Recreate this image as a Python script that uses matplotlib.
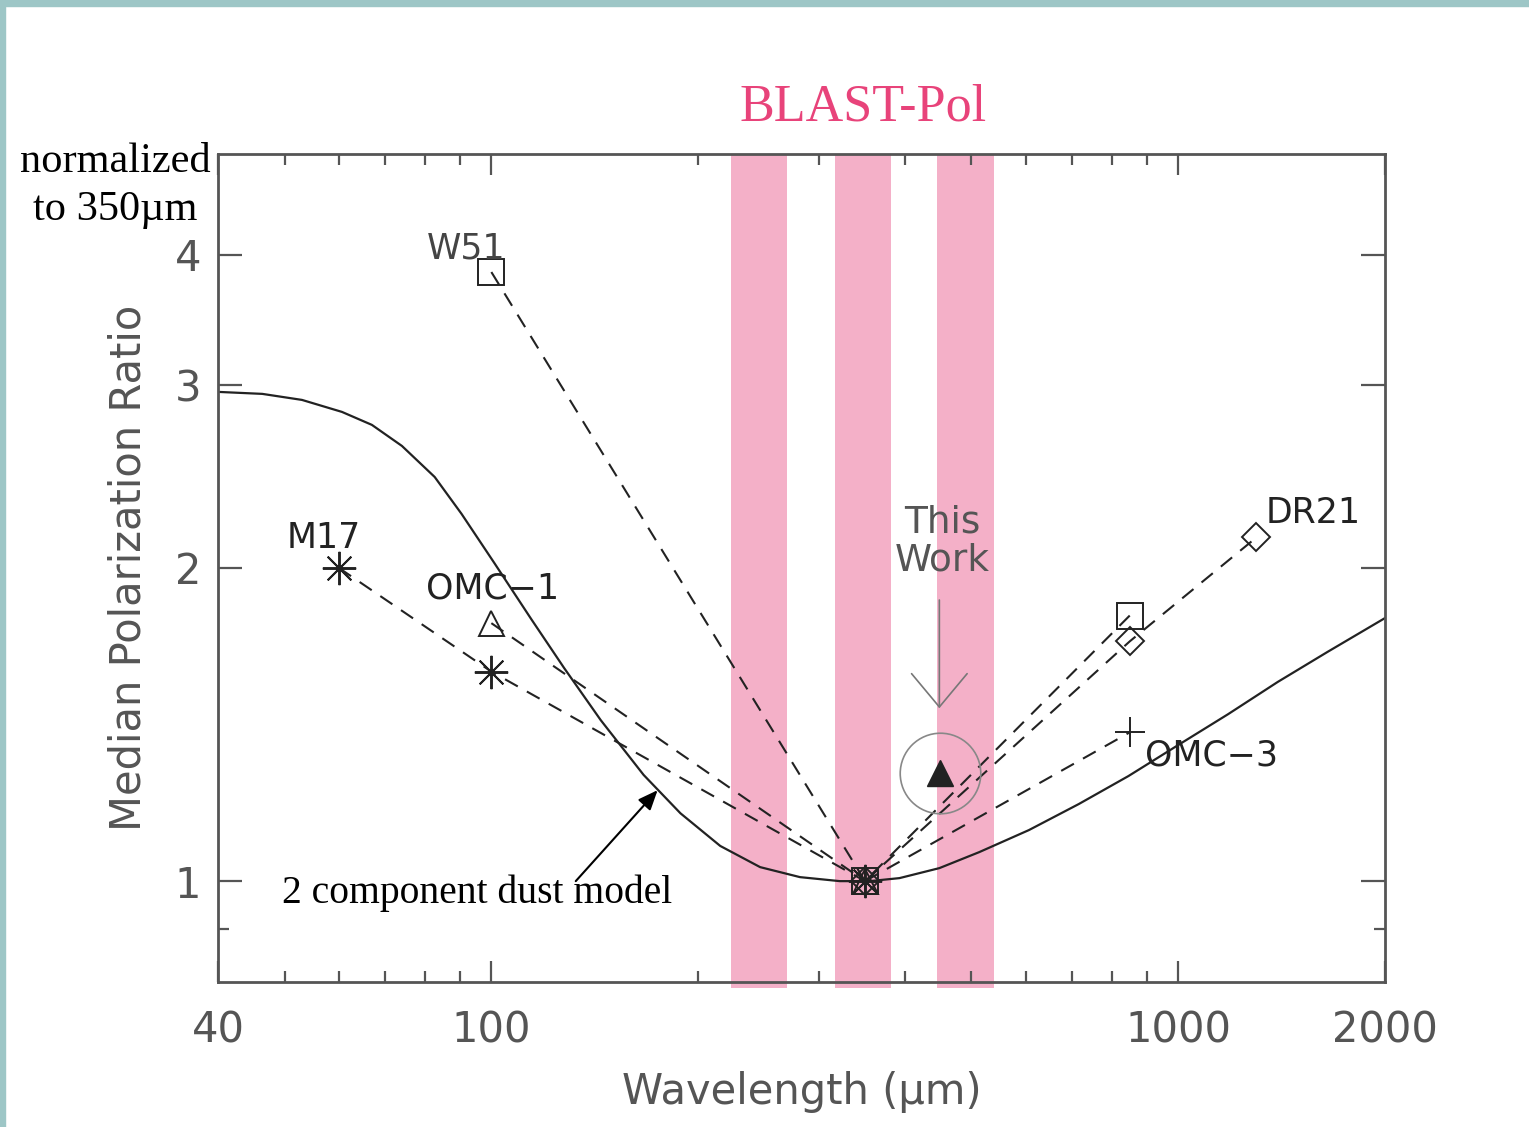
import numpy as np
import matplotlib
matplotlib.use('Agg')
from matplotlib import pyplot as plt
from matplotlib.patches import Rectangle

# BLAST-Pol passbands (um)
band_lo = [223.6, 316.2, 446.0]
band_hi = [269.4, 381.4, 539.5]

# source measurements, normalized to 350 um
w51_wl = [100, 350, 850]
w51_ratio = [3.85, 1.0, 1.80]
m17_wl = [60, 100, 350]
m17_ratio = [2.0, 1.59, 1.0]
omc1_wl = [100, 350]
omc1_ratio = [1.77, 1.0]
dr21_wl = [350, 850, 1300]
dr21_ratio = [1.0, 1.70, 2.14]
omc3_wl = [350, 850]
omc3_ratio = [1.0, 1.39]
this_wl = [450]
this_ratio = [1.27]

# two component dust model curve
model_wl = [40, 46.4, 53.0, 60.6, 67.0, 74.1, 82.7, 90.5, 101, 114.3, 127.6,
            144.3, 166.6, 188.5, 215.4, 246.2, 281.4, 321.6, 355.4, 392.8,
            449.0, 513.2, 606.2, 716.3, 846.3, 1000, 1182, 1396, 1650, 2000]
model_ratio = [2.953, 2.940, 2.901, 2.825, 2.745, 2.620, 2.446, 2.254, 2.022,
               1.786, 1.603, 1.428, 1.265, 1.162, 1.081, 1.0315, 1.0089, 1.0,
               1.0, 1.0067, 1.0292, 1.0663, 1.1196, 1.1859, 1.2618, 1.3515,
               1.447, 1.554, 1.661, 1.790]

gray = '#555555'
ink = '#222222'
pink = '#f4b0c8'
sans = 'DejaVu Sans'
serif = 'Liberation Serif'

fig = plt.figure(figsize=(15.29, 11.27), dpi=100)
fig.patch.set_facecolor('white')
fig.patches.append(Rectangle((0, 0.9947), 1, 0.0053, transform=fig.transFigure,
                             color='#9dc6c6', zorder=-1))
fig.patches.append(Rectangle((0, 0), 0.0035, 1, transform=fig.transFigure,
                             color='#9dc6c6', zorder=-1))

ax = fig.add_axes([0.1426, 0.1287, 0.7632, 0.7347])
ax.set_xscale('log')
ax.set_yscale('log')
ax.set_xlim(40, 2000)
ax.set_ylim(0.8, 5.0)

for lo, hi in zip(band_lo, band_hi):
    ax.axvspan(lo, hi, ymin=-0.007, ymax=1, color=pink, lw=0, zorder=0.5,
               clip_on=False)

ax.plot(model_wl, model_ratio, color=ink, lw=1.6, zorder=2)

dash = (0, (7, 5))
ax.plot(w51_wl, w51_ratio, color=ink, lw=1.5, ls=dash, marker='s', ms=19,
        mfc='none', mec=ink, mew=1.4, zorder=3)
ax.plot(m17_wl, m17_ratio, color=ink, lw=1.5, ls=dash, marker=(8, 2, 0),
        ms=24, mec=ink, mew=1.4, zorder=3)
ax.plot(omc1_wl, omc1_ratio, color=ink, lw=1.5, ls=dash, marker='^', ms=18,
        mfc='none', mec=ink, mew=1.4, zorder=3)
ax.plot(dr21_wl, dr21_ratio, color=ink, lw=1.5, ls=dash, marker='D', ms=14,
        mfc='none', mec=ink, mew=1.4, zorder=3)
ax.plot(omc3_wl, omc3_ratio, color=ink, lw=1.5, ls=dash, marker='+', ms=22,
        mec=ink, mew=1.4, zorder=3)
ax.plot(this_wl, this_ratio, ls='none', marker='^', ms=19, mfc='#222222',
        mec='#222222', zorder=4)
ax.plot(this_wl, this_ratio, ls='none', marker='o', ms=58, mfc='none',
        mec='#888888', mew=1.2, zorder=4)

# source labels
lab = dict(color=ink, fontsize=25, family=sans, va='baseline', ha='left')
ax.text(80.5, 3.97, 'W51', **dict(lab, color='#444444'))
ax.text(50.4, 2.09, 'M17', **lab)
ax.text(80.2, 1.87, 'OMC\u22121', **lab)
ax.text(1341, 2.21, 'DR21', **lab)
ax.text(896, 1.293, 'OMC\u22123', **lab)

ax.text(453, 1.955, 'This\nWork', color='#555555', fontsize=27, family=sans,
        ha='center', va='bottom', linespacing=1.05, zorder=5)
ax.annotate('', xy=(449, 1.466), xytext=(449, 1.863),
            arrowprops=dict(arrowstyle='->,head_length=1.2,head_width=1.0',
                            color='#777777', lw=1.2, mutation_scale=20,
                            shrinkA=0, shrinkB=0), zorder=5)

ax.text(49.6, 0.952, '2 component dust model', color='black', fontsize=28.5,
        family=serif, ha='left', va='baseline')
ax.annotate('', xy=(174.6, 1.223), xytext=(132.7, 1.0),
            arrowprops=dict(arrowstyle='-|>,head_length=0.6,head_width=0.25',
                            color='black', lw=1.5, mutation_scale=20,
                            shrinkA=0, shrinkB=0))

# axes styling
for s in ax.spines.values():
    s.set_color(gray)
    s.set_linewidth(2.0)
    s.set_zorder(6)

ax.set_xticks([40, 100, 1000, 2000])
ax.set_xticklabels(['40', '100', '1000', '2000'])
ax.set_xticks([50, 60, 70, 80, 90, 200, 300, 400, 500, 600, 700, 800, 900],
              minor=True)
ax.xaxis.set_minor_formatter(matplotlib.ticker.NullFormatter())
ax.set_yticks([1, 2, 3, 4])
ax.set_yticklabels(['1', '2', '3', '4'])
ax.set_yticks([0.9], minor=True)
ax.yaxis.set_minor_formatter(matplotlib.ticker.NullFormatter())

ax.tick_params(which='both', direction='in', top=True, right=True,
               color=gray, labelcolor=gray, labelsize=30, width=1.6)
ax.tick_params(axis='x', which='major', length=15, pad=20)
ax.tick_params(axis='x', which='minor', length=8)
ax.tick_params(axis='y', which='major', length=17, pad=12)
ax.tick_params(axis='y', which='minor', length=8)
for t in ax.get_xticklabels() + ax.get_yticklabels():
    t.set_family(sans)

ax.set_xlabel('Wavelength (\u03bcm)', fontsize=30, color=gray, family=sans,
              labelpad=14)
ax.set_ylabel('Median Polarization Ratio', fontsize=30, color=gray,
              family=sans, labelpad=18)

fig.text(0.0752, 0.847, 'normalized', fontsize=30.5, family=serif,
         ha='center', va='baseline', color='black')
fig.text(0.0752, 0.805, 'to 350\u00b5m', fontsize=30.5, family=serif,
         ha='center', va='baseline', color='black')
fig.text(0.5645, 0.8935, 'BLAST-Pol', fontsize=37.5, family=serif,
         ha='center', va='baseline', color='#e8437a')

fig.savefig('out.png', dpi=100)
